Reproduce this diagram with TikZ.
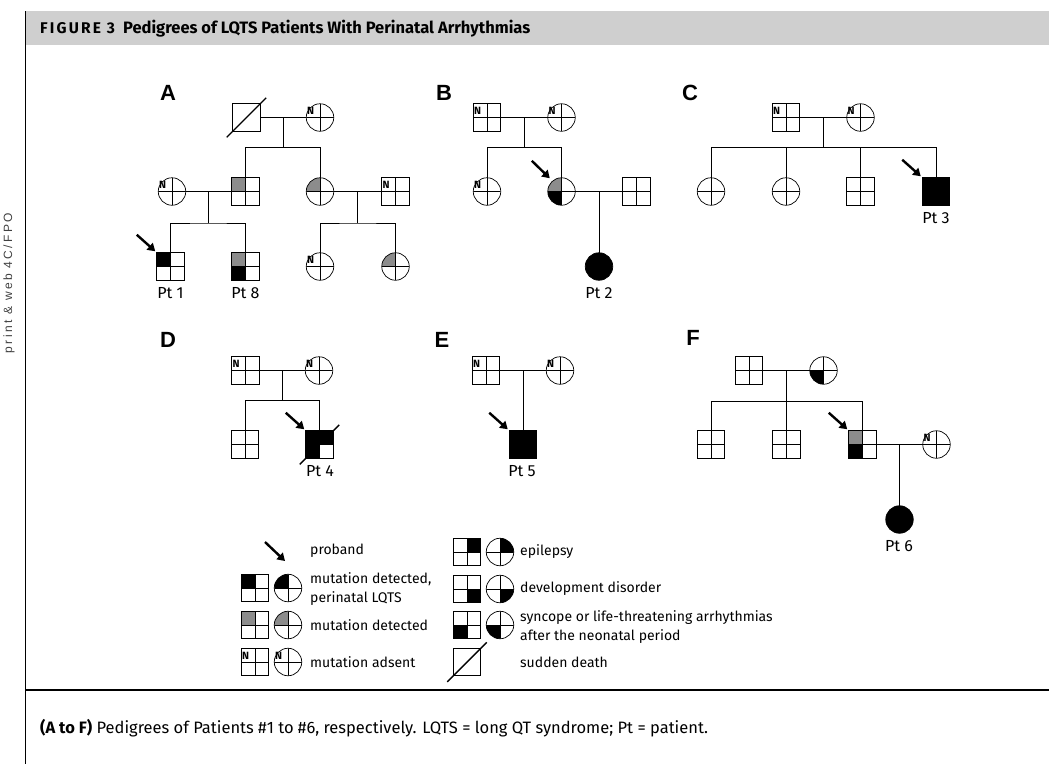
\documentclass[tikz,border=0pt]{standalone}
\usepackage{fontspec}
\setmainfont{Fira Sans}
\newfontfamily\letterfont{Liberation Sans}
\newfontfamily\figfont[LetterSpace=14]{Fira Sans}
\newfontfamily\sidefont[LetterSpace=20]{Liberation Sans}
\usetikzlibrary{arrows.meta,calc}
\definecolor{mgray}{gray}{0.55}
\definecolor{hdrgray}{gray}{0.81}
\begin{document}
\begin{tikzpicture}[x=1pt,y=-1pt,
  sym/.style={draw,line width=0.7pt,inner sep=0pt,outer sep=0pt},
  sq/.style={sym,rectangle,minimum size=27.5pt},
  ci/.style={sym,circle,minimum size=27.5pt},
  quad/.style n args={4}{path picture={
    \fill[#1] (path picture bounding box.center) rectangle (path picture bounding box.north west);
    \fill[#2] (path picture bounding box.center) rectangle (path picture bounding box.north east);
    \fill[#3] (path picture bounding box.center) rectangle (path picture bounding box.south east);
    \fill[#4] (path picture bounding box.center) rectangle (path picture bounding box.south west);
    \draw[line width=0.6pt] (path picture bounding box.north) -- (path picture bounding box.south)
      (path picture bounding box.west) -- (path picture bounding box.east);}},
  blank4/.style={quad={white}{white}{white}{white}},
  nlab/.style={font=\bfseries\fontsize{10.5}{10.5}\selectfont,xshift=-9.5pt,yshift=6.5pt,inner sep=0pt},
  nmark/.style={blank4,label={[nlab]center:N}},
  affected/.style={fill=black},
  conn/.style={line width=0.9pt},
  death/.style={line width=1.4pt},
  proband/.style={line width=2.4pt,-{Triangle[length=7.5pt,width=9pt]}},
  panel/.style={font=\letterfont\bfseries\fontsize{22}{22}\selectfont},
  ptlab/.style={font=\fontsize{16}{16}\selectfont},
  legtext/.style={anchor=west,font=\fontsize{14}{19}\selectfont,align=left,inner sep=0pt},
]
\useasboundingbox (0,0) rectangle (1049,764);
% frame
\fill[hdrgray] (25,11) rectangle (1049,45);
\draw[line width=1pt] (25,11) -- (25,764);
\draw[line width=1.5pt] (25,690) -- (1049,690);
\node[anchor=west,inner sep=0pt,font=\bfseries\fontsize{16.5}{16.5}\selectfont] (ttl) at (40,28.5)
  {{\figfont\bfseries\fontsize{15.5}{15.5}\selectfont FIGURE 3}\enspace Pedigrees of LQTS Patients With Perinatal Arrhythmias};
\node[rotate=90,font=\sidefont\fontsize{12}{12}\selectfont,text=black!75] (side) at (9,283) {print \& web 4C/FPO};
\node[anchor=west,inner sep=0pt,font=\fontsize{16.5}{16.5}\selectfont] (cap) at (40,728)
  {\textbf{(A to F)} Pedigrees of Patients \#1 to \#6, respectively. LQTS = long QT syndrome; Pt = patient.};

% ---------- Panel A ----------
\node[panel] (pA) at (168,93) {A};
\node[sq] (a1) at (246.5,117.5) {};
\node[ci,nmark] (a2) at (320,117.5) {};
\node[ci,nmark] (a3) at (172,191.5) {};
\node[sq,quad={mgray}{white}{white}{white}] (a4) at (245.5,191.5) {};
\node[ci,quad={mgray}{white}{white}{white}] (a5) at (320,191.5) {};
\node[sq,nmark] (a6) at (395.5,191.5) {};
\node[sq,quad={black}{white}{white}{white}] (a7) at (170.5,266.5) {};
\node[sq,quad={mgray}{white}{white}{black}] (a8) at (245.5,266.5) {};
\node[ci,nmark] (a9) at (320,266.5) {};
\node[ci,quad={mgray}{white}{white}{white}] (a10) at (395.5,266.5) {};
\node[ptlab] (la7) at (170.5,293.5) {Pt 1};
\node[ptlab] (la8) at (245.5,293.5) {Pt 8};
\draw[death] ($(a1.south west)+(-6,6)$) -- ($(a1.north east)+(6,-6)$);
\draw[conn] (a1.east) -- (a2.west);
\coordinate (ja) at ($(a1)!0.5!(a2)$);
\coordinate (ba) at ($(ja)+(0,30)$);
\draw[conn] (ja) -- (ba);
\draw[conn] (a4.north) |- (ba) -| (a5.north);
\draw[conn] (a3.east) -- (a4.west);
\coordinate (jb) at ($(a3)!0.5!(a4)$);
\coordinate (bb) at ($(jb)+(0,31.5)$);
\draw[conn] (jb) -- (bb);
\draw[conn] (a7.north) |- (bb) -| (a8.north);
\draw[conn] (a5.east) -- (a6.west);
\coordinate (jc) at ($(a5)!0.5!(a6)$);
\coordinate (bc) at ($(jc)+(0,31.5)$);
\draw[conn] (jc) -- (bc);
\draw[conn] (a9.north) |- (bc) -| (a10.north);
\draw[proband] ($(a7.north west)+(-20,-18)$) -- ($(a7.north west)+(-1.5,-1.5)$);

% ---------- Panel B ----------
\node[panel] (pB) at (444,93) {B};
\node[sq,nmark] (b1) at (487,117.5) {};
\node[ci,nmark] (b2) at (561.5,117.5) {};
\node[ci,nmark] (b3) at (487,191.5) {};
\node[ci,quad={mgray}{white}{white}{black}] (b4) at (561.5,191.5) {};
\node[sq,blank4] (b5) at (636.5,191.5) {};
\node[ci,affected] (b6) at (599,266.5) {};
\node[ptlab] (lb6) at (599,293.5) {Pt 2};
\draw[conn] (b1.east) -- (b2.west);
\coordinate (jd) at ($(b1)!0.5!(b2)$);
\coordinate (bd) at ($(jd)+(0,30)$);
\draw[conn] (jd) -- (bd);
\draw[conn] (b3.north) |- (bd) -| (b4.north);
\draw[conn] (b4.east) -- (b5.west);
\coordinate (je) at ($(b4)!0.5!(b5)$);
\draw[conn] (je) -- (b6.north);
\draw[proband] ($(b4.north west)+(-20,-21)$) -- ($(b4.north west)+(-2,-3.5)$);

% ---------- Panel C ----------
\node[panel] (pC) at (690,93) {C};
\node[sq,nmark] (c1) at (786,117.5) {};
\node[ci,nmark] (c2) at (860.5,117.5) {};
\node[ci,blank4] (c3) at (711,191.5) {};
\node[ci,blank4] (c4) at (786,191.5) {};
\node[sq,blank4] (c5) at (860.5,191.5) {};
\node[sq,affected] (c6) at (936,191.5) {};
\node[ptlab] (lc6) at (936,218.5) {Pt 3};
\draw[conn] (c1.east) -- (c2.west);
\coordinate (jf) at ($(c1)!0.5!(c2)$);
\coordinate (bf) at ($(jf)+(0,30)$);
\draw[conn] (jf) -- (bf);
\draw[conn] (c3.north) |- (bf) -| (c6.north);
\draw[conn] (c4.north) -- (c4.north |- bf);
\draw[conn] (c5.north) -- (c5.north |- bf);
\draw[proband] ($(c6.north west)+(-20,-18)$) -- ($(c6.north west)+(-1.5,-1.5)$);

% ---------- Panel D ----------
\node[panel] (pD) at (168,340) {D};
\node[sq,nmark] (d1) at (245.5,370.5) {};
\node[ci,nmark] (d2) at (319,370.5) {};
\node[sq,blank4] (d3) at (245,444.5) {};
\node[sq,quad={black}{black}{white}{black}] (d4) at (319.5,444.5) {};
\node[ptlab] (ld4) at (320,471.5) {Pt 4};
\draw[death] ($(d4.south west)+(-6,6)$) -- ($(d4.north east)+(6,-6)$);
\draw[conn] (d1.east) -- (d2.west);
\coordinate (jg) at ($(d1)!0.5!(d2)$);
\coordinate (bg) at ($(jg)+(0,30)$);
\draw[conn] (jg) -- (bg);
\draw[conn] (d3.north) |- (bg) -| (d4.north);
\draw[proband] ($(d4.north west)+(-20,-18)$) -- ($(d4.north west)+(-1.5,-1.5)$);

% ---------- Panel E ----------
\node[panel] (pE) at (442,340) {E};
\node[sq,nmark] (e1) at (486,370.5) {};
\node[ci,nmark] (e2) at (560,370.5) {};
\node[sq,affected] (e3) at (523,444.5) {};
\node[ptlab] (le3) at (522,471.5) {Pt 5};
\draw[conn] (e1.east) -- (e2.west);
\coordinate (jh) at ($(e1)!0.5!(e2)$);
\draw[conn] (jh) -- (e3.north);
\draw[proband] ($(e3.north west)+(-20,-18)$) -- ($(e3.north west)+(-1.5,-1.5)$);

% ---------- Panel F ----------
\node[panel] (pF) at (693,338) {F};
\node[sq,blank4] (f1) at (749,370.5) {};
\node[ci,quad={white}{white}{white}{black}] (f2) at (823.5,370.5) {};
\node[sq,blank4] (f3) at (711,444.5) {};
\node[sq,blank4] (f4) at (786.5,444.5) {};
\node[sq,quad={mgray}{white}{white}{black}] (f5) at (862.5,444.5) {};
\node[ci,nmark] (f6) at (936.5,444.5) {};
\node[ci,affected] (f7) at (899.5,519.5) {};
\node[ptlab] (lf7) at (899,546) {Pt 6};
\draw[conn] (f1.east) -- (f2.west);
\coordinate (ji) at ($(f1)!0.5!(f2)$);
\coordinate (bi) at ($(ji)+(0,31)$);
\draw[conn] (ji) -- (bi);
\draw[conn] (f3.north) |- (bi) -| (f5.north);
\draw[conn] (f4.north) -- (f4.north |- bi);
\draw[conn] (f5.east) -- (f6.west);
\coordinate (jj) at ($(f5)!0.5!(f6)$);
\draw[conn] (jj) -- (f7.north);
\draw[proband] ($(f5.north west)+(-20,-18)$) -- ($(f5.north west)+(-1.5,-1.5)$);

% ---------- Legend ----------
\coordinate (lgs) at (265,542);
\coordinate (lge) at (285,561);
\draw[proband] (lgs) -- (lge);
\node[legtext] (t1) at (310,551) {proband};
\node[sq,quad={black}{white}{white}{white}] (g1s) at (255,588) {};
\node[ci,quad={black}{white}{white}{white}] (g1c) at (288,588) {};
\node[legtext] (t2) at (310,589) {mutation detected,\\perinatal LQTS};
\node[sq,quad={mgray}{white}{white}{white}] (g2s) at (255,625) {};
\node[ci,quad={mgray}{white}{white}{white}] (g2c) at (288,625) {};
\node[legtext] (t3) at (310,625) {mutation detected};
\node[sq,nmark] (g3s) at (255,662) {};
\node[ci,nmark] (g3c) at (288,662) {};
\node[legtext] (t4) at (310,662) {mutation adsent};

\node[sq,quad={white}{black}{white}{white}] (g4s) at (467,552) {};
\node[ci,quad={white}{black}{white}{white}] (g4c) at (500,552) {};
\node[legtext] (t5) at (520,552) {epilepsy};
\node[sq,quad={white}{white}{black}{white}] (g5s) at (467,589) {};
\node[ci,quad={white}{white}{black}{white}] (g5c) at (500,589) {};
\node[legtext] (t6) at (520,589) {development disorder};
\node[sq,quad={white}{white}{white}{black}] (g6s) at (467,625) {};
\node[ci,quad={white}{white}{white}{black}] (g6c) at (500,625) {};
\node[legtext] (t7) at (520,627) {syncope or life-threatening arrhythmias\\after the neonatal period};
\node[sq] (g7s) at (467,662) {};
\draw[death] ($(g7s.south west)+(-6,6)$) -- ($(g7s.north east)+(6,-6)$);
\node[legtext] (t8) at (520,662) {sudden death};
\end{tikzpicture}
\end{document}
